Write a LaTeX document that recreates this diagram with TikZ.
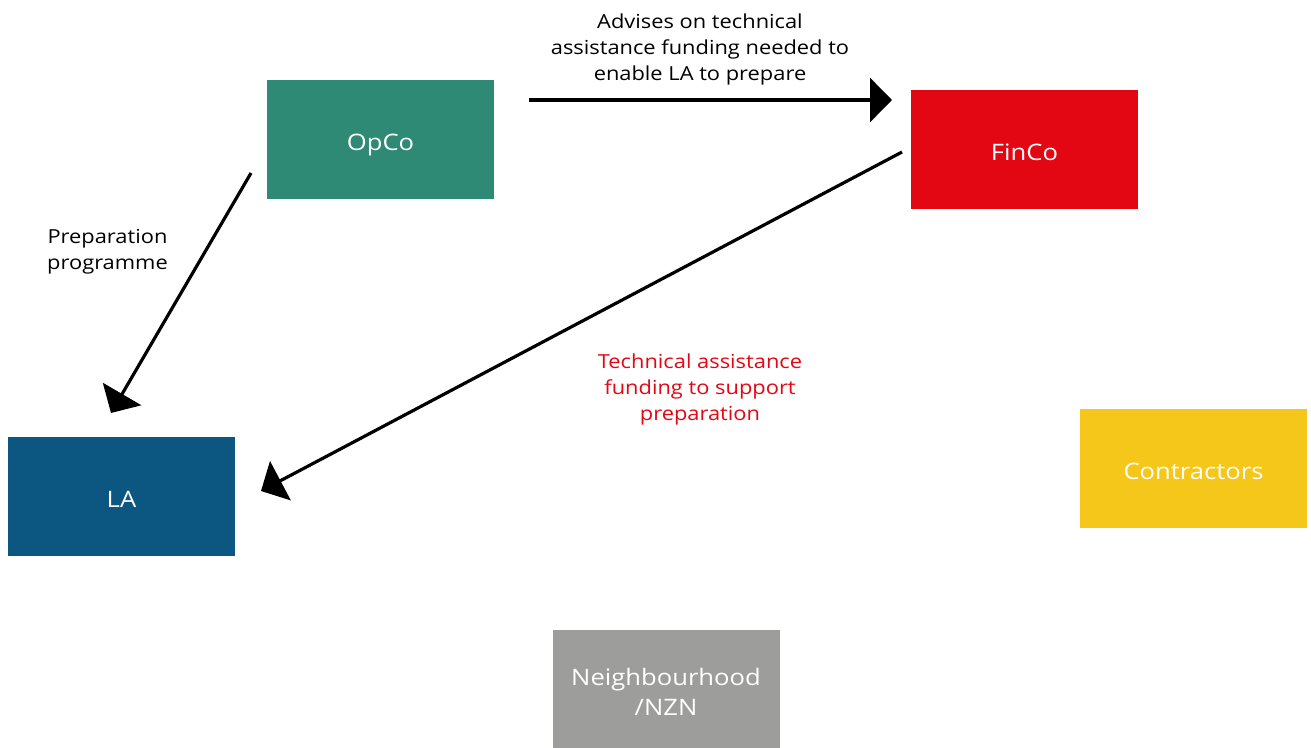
\documentclass[tikz,border=0pt]{standalone}
\usepackage{fontspec}
\setmainfont{Open Sans}[FakeStretch=1.13]
\usetikzlibrary{arrows.meta}
\definecolor{opco}{HTML}{2E8A74}
\definecolor{finco}{HTML}{E30613}
\definecolor{la}{HTML}{0B5781}
\definecolor{contr}{HTML}{F5C71A}
\definecolor{nzn}{HTML}{9D9D9C}
\begin{document}
\begin{tikzpicture}[x=0.75pt,y=-0.75pt,
  party/.style={minimum width=170.25pt,minimum height=89.25pt,inner sep=0pt,
    text=white,font=\fontsize{17}{22.5}\selectfont,align=center},
  oneline/.style={text height=15.9pt,text depth=0pt},
  lbl/.style={font=\fontsize{14.5}{19.5}\selectfont,align=center,inner sep=0pt},
  flow/.style={line width=2.4pt,-{Triangle[length=16.5pt,width=33pt]}}]
\useasboundingbox (0,0) rectangle (1311,747);
% parties
\node[party,oneline,fill=opco]  (opco)  at (380.5,139.5) {OpCo};
\node[party,oneline,fill=finco] (finco) at (1024.5,149.5) {FinCo};
\node[party,oneline,fill=la]    (la)    at (121.5,496.5) {LA};
\node[party,oneline,fill=contr] (contr) at (1193.5,468.5) {Contractors};
\node[party,fill=nzn,minimum height=93pt] (nzn) at (666,692) {Neighbourhood\\/NZN};
% connector end points
\coordinate (a1) at (529,100);
\coordinate (a2) at (892,100);
\coordinate (b1) at (251,173);
\coordinate (b2) at (111,413);
\coordinate (c1) at (902,152);
\coordinate (c2) at (261,491);
\draw[flow] (a1) -- (a2);
\draw[flow] (b1) -- (b2);
\draw[flow] (c1) -- (c2);
% labels
\node[lbl] (advise) at (700,49) {Advises on technical\\assistance funding needed to\\enable LA to prepare};
\node[lbl,text=finco] (fund) at (700,389.5) {Technical assistance\\funding to support\\preparation};
\node[lbl] (prep) at (107.5,251.5) {Preparation\\programme};
\end{tikzpicture}
\end{document}
